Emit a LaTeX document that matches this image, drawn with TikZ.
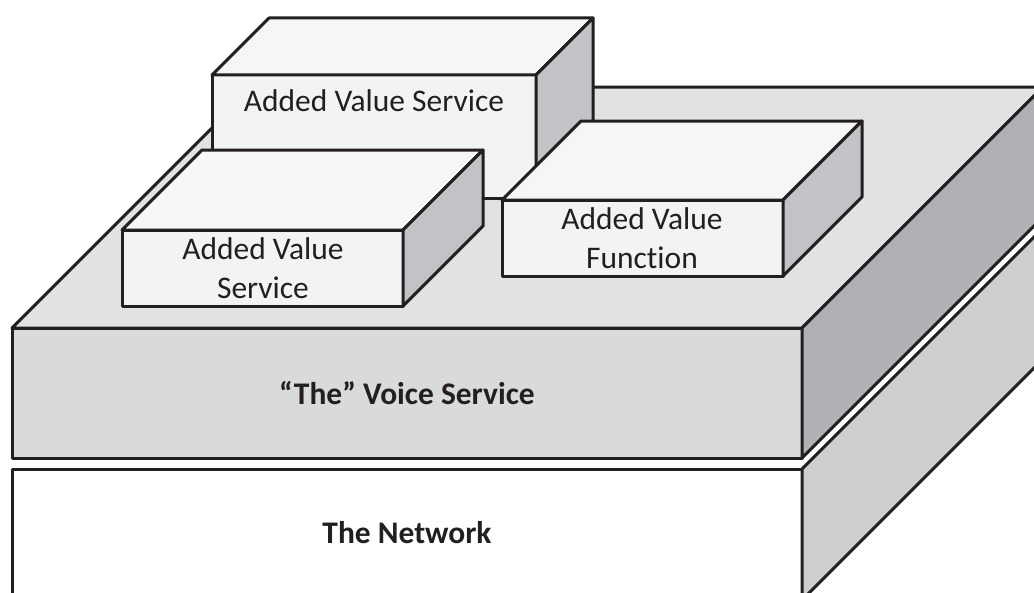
\documentclass[tikz,border=0pt]{standalone}
\usepackage{fontspec}
\setmainfont{Carlito}[Ligatures=NoCommon]
\usetikzlibrary{positioning}
\definecolor{netside}{RGB}{205,206,208}
\definecolor{vfront}{RGB}{217,218,220}
\definecolor{vtop}{RGB}{225,226,228}
\definecolor{vside}{RGB}{176,177,180}
\definecolor{afront}{RGB}{242,243,243}
\definecolor{atop}{RGB}{246,246,246}
\definecolor{aside}{RGB}{194,195,198}
\definecolor{ink}{RGB}{35,31,32}

\begin{document}
\begin{tikzpicture}[x=0.75pt,y=-0.75pt,
    face/.style={draw=ink,line width=2.25pt,line join=round},
    label/.style={text=ink,font=\fontsize{23.6}{29}\selectfont,align=center},
    boldlabel/.style={label,font=\fontsize{23.6}{29}\selectfont\bfseries}]
          \useasboundingbox (0,0) rectangle (1034,592);
          \clip (0,0) rectangle (1034,592);

          % Draw the network
          \draw[face,fill=white] (12,469) rectangle (802,600);
          \draw[face,fill=netside] (802,469) -- (1043,228) -- (1043,359) -- (802,600) -- cycle;
          \node[boldlabel] (net) at (407,533) {The Network};

          % Draw the voice service
          \draw[face,fill=vfront] (12,328) rectangle (802,458);
          \draw[face,fill=vtop] (12,328) -- (253,87) -- (1043,87) -- (802,328) -- cycle;
          \draw[face,fill=vside] (802,328) -- (1043,87) -- (1043,217) -- (802,458) -- cycle;
          \node[boldlabel] (voice) at (407,393) {“The” Voice Service};

          % Draw the added value boxes
          \draw[face,fill=afront] (212,75) rectangle (536,198);
          \draw[face,fill=atop] (212,75) -- (269,18) -- (593,18) -- (536,75) -- cycle;
          \draw[face,fill=aside] (536,75) -- (593,18) -- (593,141) -- (536,198) -- cycle;
          \node[label] (avs1) at (374,101) {Added Value Service};

          \draw[face,fill=afront] (502,200) rectangle (783,276);
          \draw[face,fill=atop] (502,200) -- (581,121) -- (862,121) -- (783,200) -- cycle;
          \draw[face,fill=aside] (783,200) -- (862,121) -- (862,197) -- (783,276) -- cycle;
          \node[label] (avf) at (642,238) {Added Value\\Function};

          \draw[face,fill=afront] (122,230) rectangle (403,306);
          \draw[face,fill=atop] (122,230) -- (202,150) -- (483,150) -- (403,230) -- cycle;
          \draw[face,fill=aside] (403,230) -- (483,150) -- (483,226) -- (403,306) -- cycle;
          \node[label] (avs2) at (263,268) {Added Value\\Service};

        \end{tikzpicture}
\end{document}
